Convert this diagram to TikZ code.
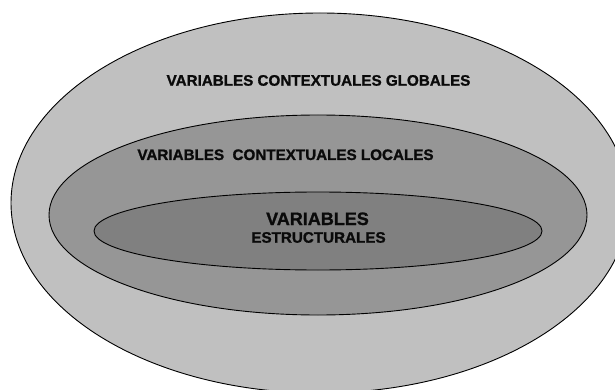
\documentclass[tikz,border=0pt]{standalone}
\usepackage{fontspec}
\setmainfont{Liberation Sans}
\newfontfamily\lblfont{Liberation Sans Bold}[FakeBold=1.2]
\usetikzlibrary{shapes.geometric}
\definecolor{outerfill}{HTML}{C0C0C0}
\definecolor{midfill}{HTML}{969696}
\definecolor{innerfill}{HTML}{808080}
\definecolor{txt}{HTML}{0A0A0A}
\tikzset{
  ring/.style={ellipse, draw=black, line width=0.9pt, inner sep=0pt, outer sep=0pt},
  lbl/.style={anchor=base, inner sep=0pt, text=txt, font=\lblfont\fontsize{15.2}{17}\selectfont},
  biglbl/.style={lbl, font=\lblfont\fontsize{18}{20}\selectfont}
}
\begin{document}
\begin{tikzpicture}[x=1pt,y=-1pt]
\useasboundingbox (0,0) rectangle (615,390);
\clip (0,0) rectangle (615,390);
\fill[white] (0,0) rectangle (615,390);
\node[ring, fill=outerfill, minimum width=618pt, minimum height=380pt] (outer) at (320,203) {};
\node[ring, fill=midfill, minimum width=538pt, minimum height=200pt] (mid) at (318,215) {};
\node[ring, fill=innerfill, minimum width=448pt, minimum height=78pt] (inner) at (318,231) {};
\node[lbl] (glob) at (318.5,85.7) {VARIABLES CONTEXTUALES GLOBALES};
\node[lbl] (loc) at (285.5,160) {VARIABLES\ \ CONTEXTUALES LOCALES};
\node[biglbl] (var) at (317.5,225) {VARIABLES};
\node[lbl] (est) at (318.5,242.7) {ESTRUCTURALES};
\end{tikzpicture}
\end{document}
